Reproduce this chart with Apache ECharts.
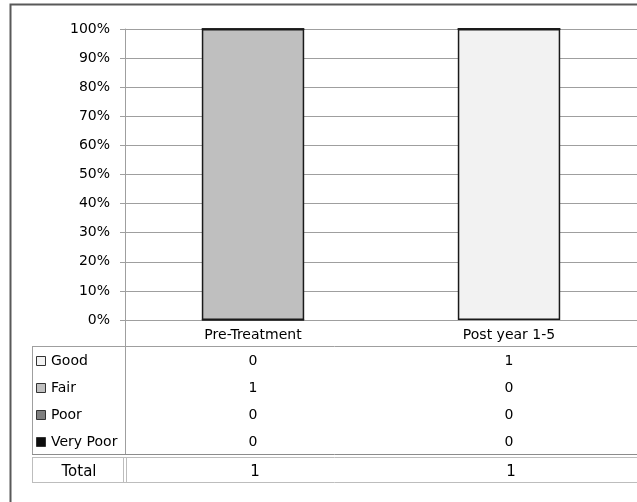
<!DOCTYPE html>
<html>
<head>
<meta charset="utf-8">
<script src="https://cdn.jsdelivr.net/npm/echarts@6/dist/echarts.min.js"></script>
<style>
  html, body { margin: 0; padding: 0; background: #fff; }
  #chart { width: 637px; height: 502px; }
</style>
</head>
<body>
<div id="chart"></div>
<script>
// Condition ratings per period (counts)
const categories = ['Pre-Treatment', 'Post year 1-5'];
const ratingNames = ['Good', 'Fair', 'Poor', 'Very Poor'];
const good = [0, 1];
const fair = [1, 0];
const poor = [0, 0];
const veryPoor = [0, 0];
const totals = [1, 1];
const yTickLabels = ['0%', '10%', '20%', '30%', '40%', '50%', '60%', '70%', '80%', '90%', '100%'];

const ratingValues = [good, fair, poor, veryPoor];
const ratingColors = ['#f2f2f2', '#bfbfbf', '#7f7f7f', '#0d0d0d'];
const FONT = 'DejaVu Sans';
const LINE = '#9f9f9f';

const chart = echarts.init(document.getElementById('chart'), null, { renderer: 'canvas' });

const series = ratingNames.map((name, s) => ({
  name: name,
  type: 'bar',
  stack: 'rating',
  barWidth: '40%',
  data: ratingValues[s].map((v, i) => v / totals[i] * 100),
  itemStyle: { color: ratingColors[s], borderColor: '#1a1a1a', borderWidth: 1.5 },
  emphasis: { disabled: true },
  animation: false
}));

chart.setOption({
  animation: false,
  grid: { left: 125, right: 0, top: 29, bottom: 182 },
  xAxis: {
    type: 'category',
    data: categories,
    axisLine: { show: true, lineStyle: { color: LINE, width: 1 } },
    axisTick: { show: false },
    axisLabel: { color: '#000', fontFamily: FONT, fontSize: 14, margin: 8 }
  },
  yAxis: {
    type: 'value',
    min: 0,
    max: 100,
    interval: 10,
    axisLine: { show: true, lineStyle: { color: LINE, width: 1 } },
    axisTick: { show: true, length: 5, lineStyle: { color: LINE } },
    splitLine: { show: true, lineStyle: { color: LINE, width: 1 } },
    axisLabel: {
      color: '#000', fontFamily: FONT, fontSize: 14, margin: 15,
      formatter: (v) => yTickLabels[Math.round(v / 10)]
    }
  },
  series: series
});

// Data table under the plot
const W = 637;
const colX = categories.map((c, i) => chart.convertToPixel({ xAxisIndex: 0 }, i));
const rowY = [361, 388, 415, 442];
const totalY = 472;
const g = [];

function hline(y, x1, x2, color, w) {
  g.push({ type: 'line', silent: true, shape: { x1: x1, y1: y, x2: x2, y2: y },
    style: { stroke: color || LINE, lineWidth: w || 1 } });
}
function vline(x, y1, y2, color, w) {
  g.push({ type: 'line', silent: true, shape: { x1: x, y1: y1, x2: x, y2: y2 },
    style: { stroke: color || LINE, lineWidth: w || 1 } });
}
function text(str, x, y, align, size) {
  g.push({ type: 'text', silent: true, x: x, y: y,
    style: { text: str, fill: '#000', font: (size || 14) + 'px "' + FONT + '"',
      align: align || 'center', verticalAlign: 'middle' } });
}

// outer frame
g.push({ type: 'rect', silent: true, shape: { x: 10.5, y: 4.5, width: 700, height: 600 },
  style: { fill: 'none', stroke: '#595959', lineWidth: 2 } });

// table grid lines
vline(125.5, 320, 454.5);
hline(346.5, 32, W);
vline(32.5, 346, 454.5);
hline(454.5, 32, W, '#8c8c8c');
hline(457.5, 32, W, '#bdbdbd');
hline(482.5, 32, W, '#bdbdbd');
vline(32.5, 457, 483, '#bdbdbd');
vline(123.5, 457, 483, '#bdbdbd');
vline(126.5, 457, 483, '#bdbdbd');

// legend keys and row values
ratingNames.forEach((name, r) => {
  g.push({ type: 'rect', silent: true, shape: { x: 36.5, y: rowY[r] - 4.5, width: 9, height: 9 },
    style: { fill: ratingColors[r], stroke: '#333', lineWidth: 1 } });
  text(name, 51, rowY[r], 'left', 14);
  categories.forEach((c, i) => text(String(ratingValues[r][i]), colX[i], rowY[r], 'center', 14));
});
text('Total', 79, totalY, 'center', 15);
categories.forEach((c, i) => text(String(totals[i]), colX[i] + 2, totalY, 'center', 15));

chart.setOption({ graphic: { elements: g } });
</script>
</body>
</html>
